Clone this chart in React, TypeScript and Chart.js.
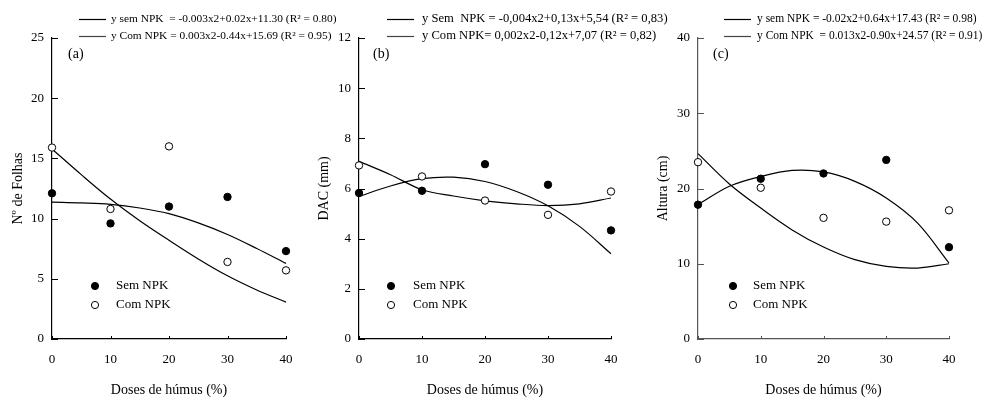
import React, { useEffect, useRef } from "react";
import { Chart, registerables } from "chart.js";

Chart.register(...registerables);

// ---------- data ----------
const doses = [0, 10, 20, 30, 40];
const fitDoses = [0, 5, 10, 15, 20, 25, 30, 35, 40];

// (a) Nº de Folhas
const aSem = [12.1, 9.6, 11.0, 11.8, 7.3];
const aCom = [15.9, 10.8, 16.0, 6.4, 5.7];
const aSemFit = [11.37, 11.3, 11.18, 10.88, 10.41, 9.64, 8.68, 7.52, 6.28];
const aComFit = [15.78, 13.65, 11.62, 9.82, 8.2, 6.65, 5.25, 4.07, 3.06];

// (b) DAC (mm)
const bSem = [5.82, 5.91, 6.97, 6.15, 4.33];
const bCom = [6.92, 6.48, 5.52, 4.95, 5.88];
const bSemFit = [5.68, 6.1, 6.39, 6.45, 6.28, 5.88, 5.31, 4.49, 3.4];
const bComFit = [7.08, 6.55, 5.95, 5.7, 5.51, 5.39, 5.32, 5.39, 5.62];

// (c) Altura (cm)
const cSem = [17.85, 21.3, 22.0, 23.8, 12.2];
const cCom = [23.5, 20.1, 16.1, 15.6, 17.1];
const cSemFit = [17.85, 20.3, 21.6, 22.4, 22.2, 20.95, 18.74, 15.4, 10.1];
const cComFit = [24.63, 20.6, 17.4, 14.5, 12.22, 10.54, 9.65, 9.43, 10.0];

const seriesNames = ["Sem NPK", "Com NPK"];
const xTitle = "Doses de húmus (%)";

const aEq = [
  "y sem NPK  = -0.003x2+0.02x+11.30 (R² = 0.80)",
  "y Com NPK = 0.003x2-0.44x+15.69 (R² = 0.95)",
];
const bEq = [
  "y Sem  NPK = -0,004x2+0,13x+5,54 (R² = 0,83)",
  "y Com NPK= 0,002x2-0,12x+7,07 (R² = 0,82)",
];
const cEq = [
  "y sem NPK = -0.02x2+0.64x+17.43 (R² = 0.98)",
  "y Com NPK  = 0.013x2-0.90x+24.57 (R² = 0.91)",
];

// ---------- layout / style ----------
const FONT = '"Liberation Serif", "Times New Roman", serif';
const H = 398;
const TOP = 38;
const BOTTOM = 339;

const panels = [
  {
    key: "a", left: 0, width: 360, areaLeft: 52, areaRight: 286,
    yMax: 25, yStep: 5, yTitle: "Nº de Folhas", titlePad: 10,
    letter: "(a)", letterDx: 16, eq: aEq, eqFont: 11.4, eqLineDx: 27, eqTextDx: 59,
    mkDx: 43, mkTextDx: 64, axisColor: "#000",
    sem: aSem, com: aCom, semFit: aSemFit, comFit: aComFit,
  },
  {
    key: "b", left: 310, width: 372, areaLeft: 49, areaRight: 301,
    yMax: 12, yStep: 2, yTitle: "DAC (mm)", titlePad: 6,
    letter: "(b)", letterDx: 14, eq: bEq, eqFont: 12.6, eqLineDx: 28, eqTextDx: 63,
    mkDx: 32, mkTextDx: 54, axisColor: "#000",
    sem: bSem, com: bCom, semFit: bSemFit, comFit: bComFit,
  },
  {
    key: "c", left: 640, width: 342, areaLeft: 58, areaRight: 309,
    yMax: 40, yStep: 10, yTitle: "Altura (cm)", titlePad: 15,
    letter: "(c)", letterDx: 15, eq: cEq, eqFont: 11.5, eqLineDx: 26, eqTextDx: 59,
    mkDx: 35, mkTextDx: 55, axisColor: "#555",
    sem: cSem, com: cCom, semFit: cSemFit, comFit: cComFit,
  },
];

type PanelT = (typeof panels)[number];

function pts(xs: number[], ys: number[]) {
  return xs.map((x, i) => ({ x, y: ys[i] }));
}

function makeDecor(p: PanelT) {
  return {
    id: "decor_" + p.key,
    afterDraw(chart: any) {
      const { ctx, chartArea, scales } = chart;
      const xs = scales.x;
      const ys = scales.y;
      ctx.save();
      // inward tick marks
      ctx.strokeStyle = p.axisColor;
      ctx.lineWidth = 1;
      xs.ticks.forEach((t: any) => {
        const px = Math.round(xs.getPixelForValue(t.value)) + 0.5;
        ctx.beginPath();
        ctx.moveTo(px, chartArea.bottom);
        ctx.lineTo(px, chartArea.bottom - 3);
        ctx.stroke();
      });
      ys.ticks.forEach((t: any) => {
        const py = Math.round(ys.getPixelForValue(t.value)) + 0.5;
        ctx.beginPath();
        ctx.moveTo(chartArea.left, py);
        ctx.lineTo(chartArea.left + 6, py);
        ctx.stroke();
      });
      // panel letter
      ctx.fillStyle = "#000";
      ctx.textBaseline = "middle";
      ctx.textAlign = "left";
      ctx.font = `14px ${FONT}`;
      ctx.fillText(p.letter, chartArea.left + p.letterDx, 54);
      // equation legend
      ctx.font = `${p.eqFont}px ${FONT}`;
      const eqY = [19, 36];
      const eqColors = ["#000", "#444"];
      p.eq.forEach((txt, i) => {
        ctx.strokeStyle = eqColors[i];
        ctx.lineWidth = 1.2;
        ctx.beginPath();
        ctx.moveTo(chartArea.left + p.eqLineDx, eqY[i] + 0.5);
        ctx.lineTo(chartArea.left + p.eqLineDx + 27, eqY[i] + 0.5);
        ctx.stroke();
        ctx.fillStyle = "#000";
        ctx.fillText(txt, chartArea.left + p.eqTextDx, eqY[i]);
      });
      // marker legend
      const mkY = [286, 305];
      ctx.font = `13px ${FONT}`;
      seriesNames.forEach((name, i) => {
        ctx.beginPath();
        ctx.arc(chartArea.left + p.mkDx, mkY[i], 3.6, 0, Math.PI * 2);
        ctx.fillStyle = i === 0 ? "#000" : "#fff";
        ctx.fill();
        ctx.strokeStyle = "#000";
        ctx.lineWidth = 1;
        ctx.stroke();
        ctx.fillStyle = "#000";
        ctx.fillText(name, chartArea.left + p.mkTextDx, mkY[i]);
      });
      ctx.restore();
    },
  };
}

function PanelChart({ p }: { p: PanelT }) {
  const ref = useRef<HTMLCanvasElement | null>(null);
  useEffect(() => {
    if (!ref.current) return;
    const fitStyle = {
      borderColor: "#000",
      borderWidth: 1.2,
      pointRadius: 0,
      tension: 0.35,
      fill: false,
      clip: false,
    };
    const chart = new Chart(ref.current, {
      type: "line",
      data: {
        datasets: [
          {
            label: seriesNames[0],
            data: pts(doses, p.sem),
            showLine: false,
            pointRadius: 3.7,
            pointBackgroundColor: "#000",
            pointBorderColor: "#000",
            pointBorderWidth: 1,
            clip: false,
          } as any,
          {
            label: seriesNames[1],
            data: pts(doses, p.com),
            showLine: false,
            pointRadius: 3.7,
            pointBackgroundColor: "#fff",
            pointBorderColor: "#000",
            pointBorderWidth: 1,
            clip: false,
          } as any,
          { label: "fit " + seriesNames[0], data: pts(fitDoses, p.semFit), ...fitStyle } as any,
          { label: "fit " + seriesNames[1], data: pts(fitDoses, p.comFit), ...fitStyle } as any,
        ],
      },
      options: {
        responsive: false,
        animation: false,
        devicePixelRatio: 1,
        events: [],
        layout: {
          padding: { left: 0, top: TOP, right: p.width - p.areaRight, bottom: 0 },
        },
        plugins: {
          legend: { display: false },
          tooltip: { enabled: false },
        },
        scales: {
          x: {
            type: "linear",
            min: 0,
            max: 40,
            ticks: {
              stepSize: 10,
              color: "#000",
              padding: 13,
              font: { family: FONT, size: 13 },
            },
            grid: { display: false, drawTicks: false },
            border: { display: true, color: p.axisColor, width: 1.2 },
            title: {
              display: true,
              text: xTitle,
              color: "#000",
              font: { family: FONT, size: 14, lineHeight: 1.1 },
              padding: { top: 0, bottom: 0 },
            },
            afterFit(scale: any) {
              scale.height = H - BOTTOM;
            },
          },
          y: {
            type: "linear",
            min: 0,
            max: p.yMax,
            ticks: {
              stepSize: p.yStep,
              color: "#000",
              padding: 8,
              font: { family: FONT, size: 13 },
            },
            grid: { display: false, drawTicks: false },
            border: { display: true, color: p.axisColor, width: 1.2 },
            title: {
              display: true,
              text: p.yTitle,
              color: "#000",
              font: { family: FONT, size: 14 },
              padding: { top: p.titlePad, bottom: 0 },
            },
            afterFit(scale: any) {
              scale.width = p.areaLeft;
            },
          },
        },
      } as any,
      plugins: [makeDecor(p)],
    });
    return () => chart.destroy();
  }, [p]);
  return (
    <div style={{ position: "absolute", left: p.left, top: 0, width: p.width, height: H }}>
      <canvas ref={ref} width={p.width} height={H} style={{ width: p.width, height: H, display: "block" }} />
    </div>
  );
}

export default function App() {
  return (
    <div
      style={{
        position: "fixed",
        left: 0,
        top: 0,
        width: 982,
        height: H,
        background: "#fff",
        overflow: "hidden",
      }}
    >
      {panels.map((p) => (
        <PanelChart key={p.key} p={p} />
      ))}
    </div>
  );
}
